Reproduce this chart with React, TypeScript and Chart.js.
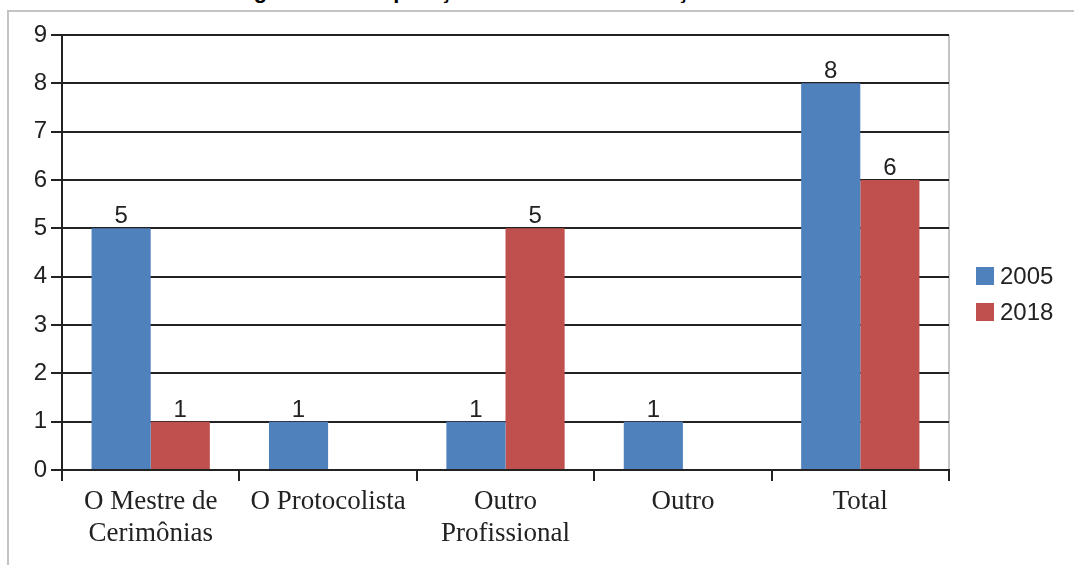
import React, { useEffect, useRef } from "react";
import { Chart, registerables } from "chart.js";

Chart.register(...registerables);

const categories: string[][] = [
  ["O Mestre de", "Cerimônias"],
  ["O Protocolista"],
  ["Outro", "Profissional"],
  ["Outro"],
  ["Total"],
];
const seriesNames = ["2005", "2018"];
const values2005: (number | null)[] = [5, 1, 1, 1, 8];
const values2018: (number | null)[] = [1, null, 5, null, 6];
const seriesColors = ["#4F81BD", "#C0504D"];
const yTicks = [0, 1, 2, 3, 4, 5, 6, 7, 8, 9];
const titleText = "Figura 4 – Comparação Sobre a Denominação do Profissional";

const valueLabels = {
  id: "valueLabels",
  afterDatasetsDraw(chart: any) {
    const ctx = chart.ctx;
    ctx.save();
    ctx.font = "24px 'Liberation Sans', Arial, sans-serif";
    ctx.fillStyle = "#222";
    ctx.textAlign = "center";
    ctx.textBaseline = "alphabetic";
    chart.data.datasets.forEach((ds: any, di: number) => {
      const meta = chart.getDatasetMeta(di);
      meta.data.forEach((bar: any, i: number) => {
        const v = ds.data[i];
        if (v === null || v === undefined) return;
        ctx.fillText(String(v), bar.x, bar.y - 5);
      });
    });
    ctx.restore();
  },
};

export default function App() {
  const ref = useRef<HTMLCanvasElement | null>(null);

  useEffect(() => {
    if (!ref.current) return;
    const chart = new Chart(ref.current, {
      type: "bar",
      data: {
        labels: categories,
        datasets: [
          {
            label: seriesNames[0],
            data: values2005,
            backgroundColor: seriesColors[0],
            categoryPercentage: 2 / 3,
            barPercentage: 1,
          },
          {
            label: seriesNames[1],
            data: values2018,
            backgroundColor: seriesColors[1],
            categoryPercentage: 2 / 3,
            barPercentage: 1,
          },
        ],
      },
      options: {
        animation: false,
        responsive: false,
        maintainAspectRatio: false,
        layout: { padding: { top: 23, right: 125, bottom: 0, left: 0 } },
        plugins: {
          legend: { display: false },
          tooltip: { enabled: false },
          title: { display: false },
        },
        scales: {
          x: {
            offset: true,
            grid: {
              offset: true,
              drawOnChartArea: true,
              drawTicks: true,
              tickLength: 11,
              lineWidth: 2,
              color: (c: any) =>
                c.index === undefined || c.index >= categories.length ? "#c4c4c4" : "rgba(0,0,0,0)",
              tickColor: "#222",
            },
            border: { display: true, color: "#222", width: 2 },
            ticks: {
              padding: 5,
              color: "#222",
              maxRotation: 0,
              autoSkip: false,
              font: { family: "'Liberation Serif', 'Times New Roman', serif", size: 27, lineHeight: 1.19 },
            },
            afterFit: (s: any) => {
              s.height = 95;
            },
          },
          y: {
            min: yTicks[0],
            max: yTicks[yTicks.length - 1],
            afterBuildTicks: (s: any) => {
              s.ticks = yTicks.map((v) => ({ value: v }));
            },
            grid: {
              color: "#222",
              lineWidth: 2,
              tickLength: 11,
              drawTicks: true,
            },
            border: { display: true, color: "#222", width: 2 },
            ticks: {
              padding: 4,
              color: "#222",
              font: { family: "'Liberation Sans', Arial, sans-serif", size: 24 },
            },
            afterFit: (s: any) => {
              s.width = 53;
            },
          },
        },
      },
      plugins: [valueLabels],
    });
    return () => chart.destroy();
  }, []);

  return (
    <div
      style={{
        position: "absolute",
        left: 0,
        top: 0,
        width: 1074,
        height: 565,
        overflow: "hidden",
        background: "#fff",
      }}
    >
      <div
        style={{
          position: "absolute",
          left: 20,
          top: -22,
          width: 1074,
          textAlign: "center",
          fontFamily: "'Liberation Sans', Arial, sans-serif",
          fontWeight: "bold",
          fontSize: 22,
          lineHeight: "25px",
          color: "#000",
          whiteSpace: "nowrap",
        }}
      >
        {titleText}
      </div>
      <div
        style={{
          position: "absolute",
          left: 7,
          top: 10,
          right: 0,
          bottom: 0,
          borderLeft: "2px solid #c4c4c4",
          borderTop: "2px solid #c4c4c4",
        }}
      />
      <canvas
        ref={ref}
        width={1065}
        height={553}
        style={{ position: "absolute", left: 9, top: 12, width: 1065, height: 553 }}
      />
      <div style={{ position: "absolute", left: 976, top: 258 }}>
        {seriesNames.map((name, i) => (
          <div key={name} style={{ display: "flex", alignItems: "center", height: 36 }}>
            <div style={{ width: 18, height: 18, background: seriesColors[i] }} />
            <span
              style={{
                marginLeft: 6,
                fontFamily: "'Liberation Sans', Arial, sans-serif",
                fontSize: 24,
                color: "#222",
                lineHeight: "36px",
              }}
            >
              {name}
            </span>
          </div>
        ))}
      </div>
    </div>
  );
}
